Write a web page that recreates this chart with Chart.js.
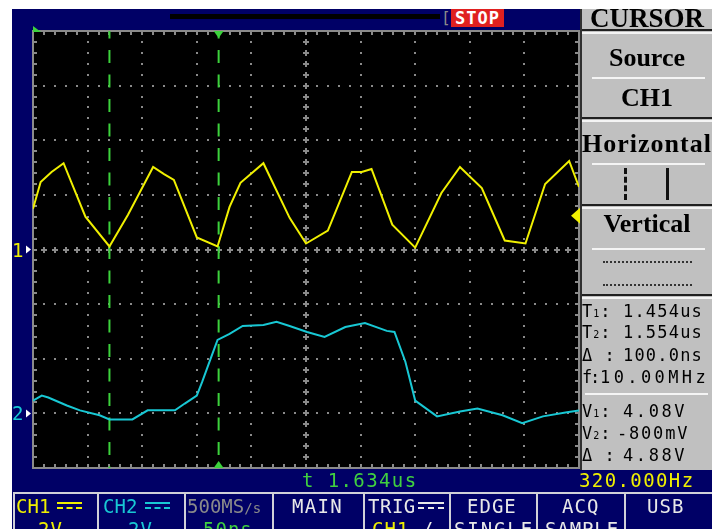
<!DOCTYPE html>
<html>
<head>
<meta charset="utf-8">
<script src="https://cdn.jsdelivr.net/npm/chart.js@4.4.0/dist/chart.umd.min.js"></script>
<style>
html, body { margin: 0; padding: 0; background: #fff; width: 724px; height: 529px; overflow: hidden; }
#scope { position: relative; width: 724px; height: 529px; }
.abs { position: absolute; white-space: pre; }
.mono { font-family: "DejaVu Sans Mono", monospace; }
.ser { font-family: "Liberation Serif", serif; font-weight: bold; font-size: 26px; line-height: 26px; color: #000; text-align: center; left: 582px; width: 130px; }
.info { font-family: "DejaVu Sans Mono", monospace; font-size: 17px; line-height: 17px; color: #000; letter-spacing: 1px; }
.menu { font-family: "DejaVu Sans Mono", monospace; font-size: 19px; line-height: 19px; letter-spacing: 1px; color: #e8e8e8; }
.sub { font-size: 10px; }
#plot { position: absolute; left: 0; top: 0; }
</style>
</head>
<body>
<div id="scope">
  <!-- navy screen background -->
  <div class="abs" style="left:12px;top:9px;width:700px;height:520px;background:#000066"></div>

  <!-- top status bar -->
  <div class="abs" style="left:170px;top:14px;width:270px;height:5px;background:#000"></div>
  <div class="abs mono" style="left:441px;top:10px;font-size:16px;line-height:16px;color:#8a8a8a">[</div>
  <div class="abs mono" style="left:451px;top:9px;width:53px;height:18px;background:#e02020;color:#fff;font-weight:bold;font-size:17px;line-height:18px;text-align:center;letter-spacing:1px">STOP</div>

  <canvas id="plot" width="724" height="529"></canvas>

  <!-- channel ground labels, placed from the scales after render -->
  <div id="lab1" class="abs mono" style="left:12px;font-size:19px;line-height:19px;color:#f0f000">1</div>
  <div id="lab2" class="abs mono" style="left:12px;font-size:19px;line-height:19px;color:#18c8d4">2</div>

  <!-- right cursor menu -->
  <div class="abs" style="left:580px;top:9px;width:132px;height:461px;background:#c0c0c0;border-left:2px solid #303030;box-sizing:border-box"></div>
  <div class="abs ser" style="top:5px;font-size:27px">CURSOR</div>
  <div class="abs" style="left:582px;top:29px;width:130px;height:2px;background:#202020"></div>
  <div class="abs" style="left:582px;top:32px;width:130px;height:2px;background:#f4f4f4"></div>
  <div class="abs ser" style="top:45px">Source</div>
  <div class="abs" style="left:592px;top:77px;width:113px;height:2px;background:#f4f4f4"></div>
  <div class="abs ser" style="top:85px">CH1</div>
  <div class="abs" style="left:582px;top:117px;width:130px;height:2px;background:#202020"></div>
  <div class="abs" style="left:582px;top:120px;width:130px;height:2px;background:#f4f4f4"></div>
  <div class="abs ser" style="top:131px;letter-spacing:1px">Horizontal</div>
  <div class="abs" style="left:592px;top:163px;width:113px;height:2px;background:#f4f4f4"></div>
  <div class="abs" style="left:624px;top:168px;width:0;height:32px;border-left:3px dashed #111"></div>
  <div class="abs" style="left:666px;top:168px;width:3px;height:32px;background:#111"></div>
  <div class="abs" style="left:582px;top:204px;width:130px;height:2px;background:#202020"></div>
  <div class="abs" style="left:582px;top:207px;width:130px;height:2px;background:#f4f4f4"></div>
  <div class="abs ser" style="top:211px">Vertical</div>
  <div class="abs" style="left:592px;top:248px;width:113px;height:2px;background:#f4f4f4"></div>
  <div class="abs" style="left:603px;top:261px;width:89px;height:0;border-top:2px dotted #333"></div>
  <div class="abs" style="left:603px;top:284px;width:89px;height:0;border-top:2px dotted #333"></div>
  <div class="abs" style="left:582px;top:294px;width:130px;height:2px;background:#202020"></div>
  <div class="abs" style="left:582px;top:297px;width:130px;height:2px;background:#f4f4f4"></div>

  <!-- cursor readout -->
  <div class="abs info" style="left:582px;top:303px">T<span class="sub">1</span>:</div>
  <div class="abs info" style="left:623px;top:303px;letter-spacing:1.2px">1.454us</div>
  <div class="abs info" style="left:582px;top:324px">T<span class="sub">2</span>:</div>
  <div class="abs info" style="left:623px;top:324px;letter-spacing:1.2px">1.554us</div>
  <div class="abs info" style="left:582px;top:347px">Δ :</div>
  <div class="abs info" style="left:623px;top:347px;letter-spacing:1.2px">100.0ns</div>
  <div class="abs info" style="left:582px;top:369px">f</div>
  <div class="abs info" style="left:590px;top:369px">:</div>
  <div class="abs info" style="left:600px;top:369px;letter-spacing:3.4px">10.00MHz</div>
  <div class="abs" style="left:585px;top:393px;width:123px;height:2px;background:#f4f4f4"></div>
  <div class="abs info" style="left:582px;top:403px">V<span class="sub">1</span>:</div>
  <div class="abs info" style="left:623px;top:403px;letter-spacing:2.6px">4.08V</div>
  <div class="abs info" style="left:582px;top:425px">V<span class="sub">2</span>:</div>
  <div class="abs info" style="left:617px;top:425px;letter-spacing:1.8px">-800mV</div>
  <div class="abs info" style="left:582px;top:447px">Δ :</div>
  <div class="abs info" style="left:623px;top:447px;letter-spacing:2.6px">4.88V</div>

  <!-- status line under the graticule -->
  <div class="abs mono" style="left:302px;top:471px;font-size:19px;line-height:19px;letter-spacing:1.4px;color:#40d040">t 1.634us</div>
  <div class="abs mono" style="left:579px;top:471px;font-size:19px;line-height:19px;letter-spacing:1.4px;color:#f0f000">320.000Hz</div>

  <!-- bottom menu bar -->
  <div class="abs" style="left:13px;top:492px;width:699px;height:2px;background:#d0d0d8"></div>
  <div class="abs" style="left:13px;top:492px;width:2px;height:37px;background:#d0d0d8"></div>
  <div class="abs" style="left:97px;top:492px;width:2px;height:37px;background:#d0d0d8"></div>
  <div class="abs" style="left:184px;top:492px;width:2px;height:37px;background:#d0d0d8"></div>
  <div class="abs" style="left:272px;top:492px;width:2px;height:37px;background:#d0d0d8"></div>
  <div class="abs" style="left:363px;top:492px;width:2px;height:37px;background:#d0d0d8"></div>
  <div class="abs" style="left:449px;top:492px;width:2px;height:37px;background:#d0d0d8"></div>
  <div class="abs" style="left:536px;top:492px;width:2px;height:37px;background:#d0d0d8"></div>
  <div class="abs" style="left:624px;top:492px;width:2px;height:37px;background:#d0d0d8"></div>

  <div class="abs menu" style="left:16px;top:497px;color:#f0f000;letter-spacing:0">CH1</div>
  <div class="abs" style="left:57px;top:502px;width:25px;height:0;border-top:2px solid #f0f000"></div>
  <div class="abs" style="left:57px;top:507px;width:25px;height:0;border-top:2px dashed #f0f000"></div>
  <div class="abs menu" style="left:38px;top:520px;color:#f0f000">2V</div>

  <div class="abs menu" style="left:103px;top:497px;color:#18c8d4;letter-spacing:0">CH2</div>
  <div class="abs" style="left:145px;top:502px;width:25px;height:0;border-top:2px solid #18c8d4"></div>
  <div class="abs" style="left:145px;top:507px;width:25px;height:0;border-top:2px dashed #18c8d4"></div>
  <div class="abs menu" style="left:128px;top:520px;color:#18c8d4">2V</div>

  <div class="abs menu" style="left:187px;top:497px;color:#8a8a8a;letter-spacing:0">500MS<span style="font-size:14px">/s</span></div>
  <div class="abs menu" style="left:203px;top:520px;color:#40d040">50ns</div>

  <div class="abs menu" style="left:292px;top:497px;letter-spacing:1.3px">MAIN</div>

  <div class="abs menu" style="left:368px;top:497px;letter-spacing:0.5px">TRIG</div>
  <div class="abs" style="left:418px;top:502px;width:26px;height:0;border-top:2px solid #e8e8e8"></div>
  <div class="abs" style="left:418px;top:507px;width:26px;height:0;border-top:2px dashed #e8e8e8"></div>
  <div class="abs menu" style="left:372px;top:520px;color:#f0f000">CH1 <span style="color:#e8e8e8">/</span></div>

  <div class="abs menu" style="left:467px;top:497px">EDGE</div>
  <div class="abs menu" style="left:454px;top:520px;letter-spacing:1.9px">SINGLE</div>

  <div class="abs menu" style="left:562px;top:497px">ACQ</div>
  <div class="abs menu" style="left:545px;top:520px;letter-spacing:0.9px">SAMPLE</div>

  <div class="abs menu" style="left:647px;top:497px">USB</div>
</div>

<script>
// Time base: 50 ns/div, 10 divisions -> 0..500 ns across the screen
// Vertical: 2 V/div, CH1 ground on the centre line, CH2 ground 3 div lower

// CH1 (yellow) samples
var ch1Time  = [0, 7, 17, 28, 48, 70, 87, 110, 120, 129, 150, 169, 180, 190, 211, 235,
                250, 270, 292, 301, 310, 329, 350, 374, 391, 411, 432, 451, 469, 491, 500];
var ch1Volts = [1.49, 2.47, 2.84, 3.16, 1.2, 0.11, 1.27, 3.02, 2.76, 2.55, 0.44, 0.11, 1.56, 2.44, 3.16, 1.16,
                0.22, 0.69, 2.84, 2.84, 2.95, 0.91, 0.07, 2.07, 3.02, 2.25, 0.33, 0.22, 2.4, 3.24, 2.29];

// CH2 (cyan)
var ch2Time  = [0, 8, 14, 31, 43, 61, 70, 91, 105, 130, 139, 150, 155, 162, 169, 180, 192, 211,
                223, 235, 251, 267, 286, 304, 324, 331, 341, 350, 370, 391, 407, 430, 448, 467, 489, 500];
var ch2Volts = [0.47, 0.65, 0.58, 0.29, 0.11, -0.07, -0.22, -0.22, 0.11, 0.11, 0.36, 0.65, 1.16, 1.93, 2.69, 2.91, 3.2, 3.24,
                3.35, 3.2, 2.98, 2.8, 3.16, 3.31, 3.02, 2.98, 1.89, 0.47, -0.11, 0.07, 0.18, -0.07, -0.36, -0.11, 0.04, 0.11];

// Cursor positions (ns), trigger position (ns) and trigger level (V, CH1)
var cursorTimes = [70, 170];
var trigTime = 170;
var trigLevel = 1.24;

var ch1Color = '#f0f000';
var ch2Color = '#18c8d4';
var cursorColor = '#3cd23c';
var gridColor = '#8a8a8a';

function points(ts, vs) {
  return ts.map(function (t, i) { return { x: t, y: vs[i] }; });
}

function cursorLine(t) {
  return {
    data: [{ x: t, y: 8 }, { x: t, y: -8 }],
    borderColor: cursorColor, borderWidth: 2,
    borderDash: [13, 11.5], borderDashOffset: 5.5,
    pointRadius: 0, yAxisID: 'y'
  };
}

function plus(ctx, x, y) {
  ctx.fillRect(x - 3, y - 1, 6, 2);
  ctx.fillRect(x - 1, y - 3, 2, 6);
}

// black screen, dotted graticule, centre cross and frame ticks
var graticule = {
  id: 'graticule',
  beforeDatasetsDraw: function (chart) {
    var ctx = chart.ctx, a = chart.chartArea;
    var sx = chart.scales.x, sy = chart.scales.y;
    var px = function (t) { return Math.round(sx.getPixelForValue(t)); };
    var py = function (v) { return Math.round(sy.getPixelForValue(v)); };
    ctx.save();
    ctx.fillStyle = '#000';
    ctx.fillRect(a.left, a.top, a.right - a.left, a.bottom - a.top);

    ctx.fillStyle = gridColor;
    for (var i = 1; i < 10; i++) {
      if (i === 5) continue;
      var gx = px(i * 50);
      for (var j = 1; j < 40; j++) ctx.fillRect(gx - 1, py(-8 + j * 0.4) - 1, 2, 2);
    }
    for (var i = 1; i < 8; i++) {
      if (i === 4) continue;
      var gy = py(-8 + i * 2);
      for (var j = 1; j < 50; j++) ctx.fillRect(px(j * 10) - 1, gy - 1, 2, 2);
    }

    var cx = px(250), cy = py(0);
    for (var j = 1; j < 50; j++) plus(ctx, px(j * 10), cy);
    for (var j = 1; j < 40; j++) plus(ctx, cx, py(-8 + j * 0.4));

    ctx.strokeStyle = gridColor;
    ctx.lineWidth = 2;
    ctx.strokeRect(a.left, a.top, a.right - a.left, a.bottom - a.top);
    for (var j = 1; j < 50; j++) {
      var tx = px(j * 10);
      ctx.fillRect(tx - 1, a.top, 2, 4);
      ctx.fillRect(tx - 1, a.bottom - 4, 2, 4);
    }
    for (var j = 1; j < 40; j++) {
      var ty = py(-8 + j * 0.4);
      ctx.fillRect(a.left, ty - 1, 4, 2);
      ctx.fillRect(a.right - 4, ty - 1, 4, 2);
    }
    ctx.restore();
  }
};

function tri(ctx, pts, color) {
  ctx.fillStyle = color;
  ctx.beginPath();
  ctx.moveTo(pts[0], pts[1]);
  ctx.lineTo(pts[2], pts[3]);
  ctx.lineTo(pts[4], pts[5]);
  ctx.closePath();
  ctx.fill();
}

// trigger / ground markers around the graticule
var markers = {
  id: 'markers',
  afterDatasetsDraw: function (chart) {
    var ctx = chart.ctx, a = chart.chartArea;
    var sx = chart.scales.x, sy = chart.scales.y, sy2 = chart.scales.y2;
    ctx.save();
    var tx = sx.getPixelForValue(trigTime);
    tri(ctx, [tx - 5, a.top, tx + 5, a.top, tx, a.top + 7], cursorColor);
    tri(ctx, [tx - 5, a.bottom, tx + 5, a.bottom, tx, a.bottom - 7], cursorColor);
    tri(ctx, [a.left, a.top - 5, a.left + 8, a.top + 1, a.left, a.top + 1], cursorColor);
    var ly = sy.getPixelForValue(trigLevel);
    tri(ctx, [a.right + 1, ly - 8, a.right + 1, ly + 8, a.right - 8, ly], ch1Color);
    var g1 = sy.getPixelForValue(0), g2 = sy2.getPixelForValue(0);
    tri(ctx, [a.left - 7, g1 - 4, a.left - 7, g1 + 4, a.left - 2, g1], '#fff');
    tri(ctx, [a.left - 7, g2 - 4, a.left - 7, g2 + 4, a.left - 2, g2], '#fff');
    ctx.restore();
  }
};

var chart = new Chart(document.getElementById('plot'), {
  type: 'line',
  data: {
    datasets: [
      { label: 'CH1', data: points(ch1Time, ch1Volts), borderColor: ch1Color, borderWidth: 2, pointRadius: 0, tension: 0, yAxisID: 'y' },
      { label: 'CH2', data: points(ch2Time, ch2Volts), borderColor: ch2Color, borderWidth: 2, pointRadius: 0, tension: 0, yAxisID: 'y2' },
      cursorLine(cursorTimes[0]),
      cursorLine(cursorTimes[1])
    ]
  },
  options: {
    responsive: false,
    animation: false,
    events: [],
    layout: { padding: { left: 33, top: 31, right: 145, bottom: 61 } },
    scales: {
      x: { type: 'linear', min: 0, max: 500, display: false },
      y: { min: -8, max: 8, display: false },
      y2: { min: -2, max: 14, display: false }
    },
    plugins: { legend: { display: false }, tooltip: { enabled: false } }
  },
  plugins: [graticule, markers]
});

// put the "1" / "2" ground labels beside their ground levels
document.getElementById('lab1').style.top = (chart.scales.y.getPixelForValue(0) - 9) + 'px';
document.getElementById('lab2').style.top = (chart.scales.y2.getPixelForValue(0) - 9) + 'px';
</script>
</body>
</html>
